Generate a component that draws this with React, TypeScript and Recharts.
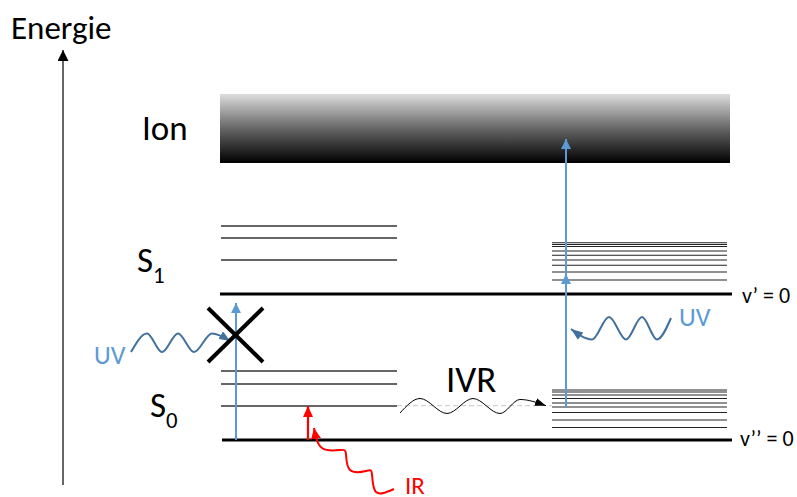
import React from 'react';
import { ComposedChart, XAxis, YAxis, Line, ReferenceLine, ReferenceArea, Scatter } from 'recharts';

// Diagram coordinate space (x to the right, y downward like the picture)
const X_DOMAIN = [0, 797];
const Y_DOMAIN = [0, 497];

// Ion continuum band
const ionBand = { x1: 220, x2: 730, yTop: 94, yBottom: 163 };

// Vibrational levels (y values)
const s1LeftLevels = [226, 238, 260];
const s0LeftLevels = [371, 384, 406];
const s1RightLevels = [242.7, 244.5, 246.5, 251, 255.3, 260, 265.3, 272, 280];
const s0RightLevels = [390, 392, 395, 398.5, 403, 407, 412.5, 420, 427.5];
const leftStack = { from: 221, to: 397 };
const rightStack = { from: 552, to: 727 };
// Zero-point levels v' = 0 and v'' = 0
const zeroLevels = [
  { y: 294, from: 220, to: 732 },
  { y: 440, from: 222, to: 732 },
];

// Energy axis
const energyAxis = [{ x: 63, y: 485 }, { x: 63, y: 50 }];

// Transitions (straight arrows)
const uvBlockedArrow = [{ x: 236, y: 440 }, { x: 236, y: 303 }];
const uvStep1 = [{ x: 566, y: 407 }, { x: 566, y: 274 }];
const uvStep2 = [{ x: 566, y: 280 }, { x: 566, y: 139 }];
const irArrow = [{ x: 308, y: 440 }, { x: 308, y: 406 }];

// Blocked-transition cross
const crossLines = [
  [{ x: 208, y: 308 }, { x: 263, y: 362 }],
  [{ x: 263, y: 308 }, { x: 208, y: 362 }],
];

// Photon / IVR wavy arrows (turning points)
const uvLeftWave = [
  { x: 131, y: 352 }, { x: 147, y: 333.5 }, { x: 162, y: 352 }, { x: 178, y: 333.5 },
  { x: 194, y: 352 }, { x: 212, y: 333.5 }, { x: 230, y: 341 },
];
const uvRightWave = [
  { x: 571, y: 329 }, { x: 592, y: 339.5 }, { x: 609, y: 317 }, { x: 626, y: 339.5 },
  { x: 642, y: 317 }, { x: 657, y: 339.5 }, { x: 671, y: 318 },
];
const ivrWave = [
  { x: 400, y: 413 }, { x: 420, y: 398.5 }, { x: 447, y: 413.5 }, { x: 473, y: 398.5 },
  { x: 500, y: 413.5 }, { x: 520, y: 399.5 }, { x: 546, y: 405.7 },
];
const ivrGuide = [{ x: 397, y: 405.7 }, { x: 552, y: 405.7 }];
const irWave = [
  { x: 394, y: 489 }, { x: 376, y: 492 }, { x: 372, y: 474 }, { x: 366, y: 471 },
  { x: 350, y: 470 }, { x: 346, y: 454 }, { x: 340, y: 450 }, { x: 322, y: 448 },
  { x: 314, y: 428 },
];

// Text labels
const labels = [
  { x: 11, y: 39, text: 'Energie', size: 33, color: '#000000' },
  { x: 142, y: 140, text: 'Ion', size: 35, color: '#000000' },
  { x: 137, y: 272, text: 'S', sub: '1', size: 35, color: '#000000' },
  { x: 150, y: 417, text: 'S', sub: '0', size: 35, color: '#000000' },
  { x: 446, y: 392, text: 'IVR', size: 37, color: '#000000' },
  { x: 742, y: 303, text: 'v’ = 0', size: 22, color: '#000000' },
  { x: 740, y: 446, text: 'v’’ = 0', size: 22, color: '#000000' },
  { x: 94, y: 364, text: 'UV', size: 26, color: '#5B9BD5' },
  { x: 679, y: 326, text: 'UV', size: 26, color: '#5B9BD5' },
  { x: 405, y: 494, text: 'IR', size: 25, color: '#FF0000' },
];

const FONT = 'Carlito, Lato, "Open Sans", sans-serif';
const BLUE = '#5B9BD5';
const DARK_BLUE = '#41719C';
const RED = '#FF0000';

const LabelShape = (props: any) => {
  const { cx, cy, payload } = props;
  if (cx == null || cy == null) return null;
  return (
    <text x={cx} y={cy} fill={payload.color} fontSize={payload.size} fontFamily={FONT}>
      {payload.text}
      {payload.sub ? (
        <tspan fontSize={payload.size * 0.65} dy={payload.size * 0.3}>{payload.sub}</tspan>
      ) : null}
    </text>
  );
};

const marker = (id: string, color: string, len: number, wid: number, orient = 'auto') => (
  <marker
    id={id}
    viewBox="0 0 10 10"
    refX={10}
    refY={5}
    markerWidth={len}
    markerHeight={wid}
    markerUnits="userSpaceOnUse"
    orient={orient}
    preserveAspectRatio="none"
  >
    <path d="M0,0 L10,5 L0,10 Z" fill={color} />
  </marker>
);

const seg = (pts: { x: number; y: number }[]) => [pts[0], pts[1]] as any;

export default function App() {
  return (
    <div style={{ position: 'absolute', left: 0, top: 0, width: 797, height: 497, background: '#fff' }}>
      <ComposedChart width={797} height={497} margin={{ top: 0, right: 0, bottom: 0, left: 0 }}>
        <defs>
          <linearGradient id="ionGrad" x1="0" y1="0" x2="0" y2="1">
            <stop offset="0%" stopColor="#DDDDDD" />
            <stop offset="50%" stopColor="#666666" />
            <stop offset="100%" stopColor="#000000" />
          </linearGradient>
          {marker('mBlack', '#000000', 11, 11)}
          {marker('mBlackSmall', '#000000', 11, 8)}
          {marker('mBlue', BLUE, 10, 10)}
          {marker('mDarkBlue', DARK_BLUE, 11, 9)}
          {marker('mDarkBlueRev', DARK_BLUE, 12, 9, 'auto-start-reverse')}
          {marker('mRed', RED, 11, 10)}
        </defs>
        <XAxis type="number" dataKey="x" domain={X_DOMAIN} hide allowDataOverflow />
        <YAxis type="number" dataKey="y" domain={Y_DOMAIN} reversed hide allowDataOverflow />

        <ReferenceArea
          x1={ionBand.x1}
          x2={ionBand.x2}
          y1={ionBand.yTop}
          y2={ionBand.yBottom}
          fill="url(#ionGrad)"
          fillOpacity={1}
          stroke="none"
          ifOverflow="visible"
        />

        {s1LeftLevels.map((y, i) => (
          <ReferenceLine key={'s1l' + i} segment={[{ x: leftStack.from, y }, { x: leftStack.to, y }]} stroke="#333" strokeWidth={1.3} />
        ))}
        {s0LeftLevels.map((y, i) => (
          <ReferenceLine key={'s0l' + i} segment={[{ x: leftStack.from, y }, { x: leftStack.to, y }]} stroke="#333" strokeWidth={1.3} />
        ))}
        {s1RightLevels.map((y, i) => (
          <ReferenceLine key={'s1r' + i} segment={[{ x: rightStack.from, y }, { x: rightStack.to, y }]} stroke="#222" strokeWidth={1.1} />
        ))}
        {s0RightLevels.map((y, i) => (
          <ReferenceLine key={'s0r' + i} segment={[{ x: rightStack.from, y }, { x: rightStack.to, y }]} stroke="#222" strokeWidth={1.1} />
        ))}
        {zeroLevels.map((l, i) => (
          <ReferenceLine key={'z' + i} segment={[{ x: l.from, y: l.y }, { x: l.to, y: l.y }]} stroke="#000" strokeWidth={3} />
        ))}

        <ReferenceLine segment={seg(ivrGuide)} stroke="#C8C8C8" strokeWidth={1} strokeDasharray="5 3" />

        <Line data={energyAxis} dataKey="y" type="linear" stroke="#000" strokeWidth={1.2} dot={false} activeDot={false} isAnimationActive={false} markerEnd="url(#mBlack)" />
        <Line data={uvBlockedArrow} dataKey="y" type="linear" stroke={BLUE} strokeWidth={2} dot={false} activeDot={false} isAnimationActive={false} markerEnd="url(#mBlue)" />
        <Line data={uvStep1} dataKey="y" type="linear" stroke={BLUE} strokeWidth={2} dot={false} activeDot={false} isAnimationActive={false} markerEnd="url(#mBlue)" />
        <Line data={uvStep2} dataKey="y" type="linear" stroke={BLUE} strokeWidth={2} dot={false} activeDot={false} isAnimationActive={false} markerEnd="url(#mBlue)" />
        <Line data={irArrow} dataKey="y" type="linear" stroke={RED} strokeWidth={2.2} dot={false} activeDot={false} isAnimationActive={false} markerEnd="url(#mRed)" />

        <Line data={uvLeftWave} dataKey="y" type="monotone" stroke={DARK_BLUE} strokeWidth={2} dot={false} activeDot={false} isAnimationActive={false} markerEnd="url(#mDarkBlue)" />
        <Line data={uvRightWave} dataKey="y" type="monotone" stroke={DARK_BLUE} strokeWidth={2} dot={false} activeDot={false} isAnimationActive={false} markerStart="url(#mDarkBlueRev)" />
        <Line data={ivrWave} dataKey="y" type="monotone" stroke="#000" strokeWidth={1} dot={false} activeDot={false} isAnimationActive={false} markerEnd="url(#mBlackSmall)" />
        <Line data={irWave} dataKey="y" type="natural" stroke={RED} strokeWidth={2} dot={false} activeDot={false} isAnimationActive={false} markerEnd="url(#mRed)" />

        {crossLines.map((c, i) => (
          <ReferenceLine key={'x' + i} segment={seg(c)} stroke="#000" strokeWidth={4} />
        ))}

        <Scatter data={labels} dataKey="y" isAnimationActive={false} shape={LabelShape} />
      </ComposedChart>
    </div>
  );
}
